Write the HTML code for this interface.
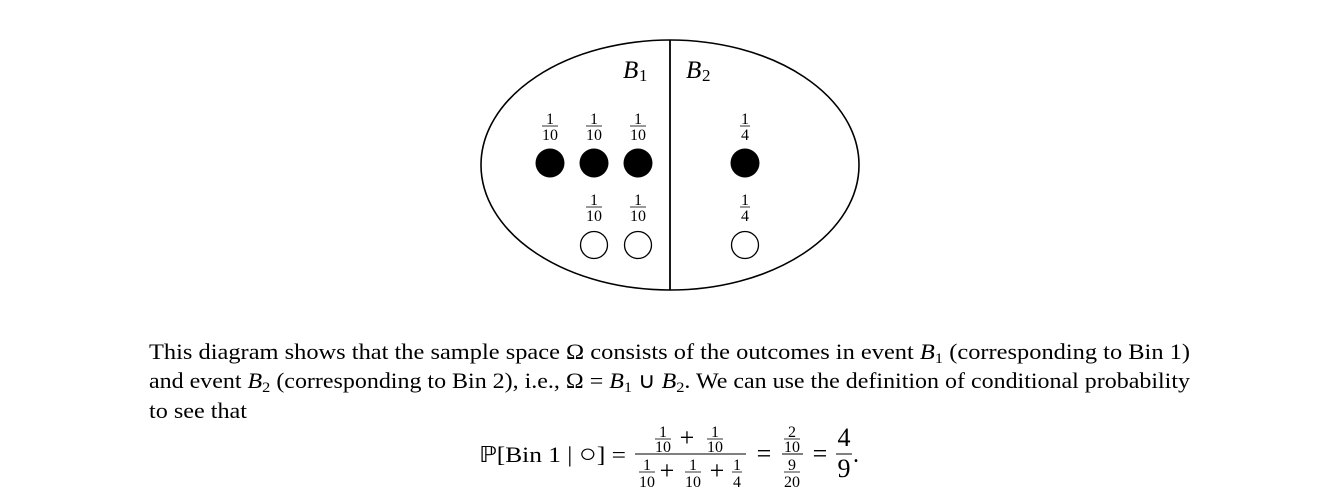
<!DOCTYPE html>
<html><head><meta charset="utf-8"><style>
html,body{margin:0;padding:0;background:#fff;}
svg{display:block;font-family:"Liberation Serif",serif;}
</style></head><body>
<svg width="1341" height="493" viewBox="0 0 1341 493" xmlns="http://www.w3.org/2000/svg">
<ellipse cx="670" cy="165" rx="189" ry="125" fill="none" stroke="#000" stroke-width="1.6"/>
<line x1="670" y1="40" x2="670" y2="290" stroke="#000" stroke-width="1.8"/>
<text x="623" y="78" font-size="25" font-style="italic">B</text><text x="639" y="81" font-size="17">1</text>
<text x="686" y="78" font-size="25" font-style="italic">B</text><text x="702" y="81" font-size="17">2</text>
<g font-size="16" text-anchor="middle">
<text x="550" y="124">1</text><line x1="542" y1="126" x2="558" y2="126" stroke="#000" stroke-width="0.8"/><text x="550" y="140">10</text>
<text x="594" y="124">1</text><line x1="586" y1="126" x2="602" y2="126" stroke="#000" stroke-width="0.8"/><text x="594" y="140">10</text>
<text x="638" y="124">1</text><line x1="630" y1="126" x2="646" y2="126" stroke="#000" stroke-width="0.8"/><text x="638" y="140">10</text>
<text x="745" y="124">1</text><line x1="740" y1="126" x2="750" y2="126" stroke="#000" stroke-width="0.8"/><text x="745" y="140">4</text>
<text x="594" y="205">1</text><line x1="586" y1="207" x2="602" y2="207" stroke="#000" stroke-width="0.8"/><text x="594" y="221">10</text>
<text x="638" y="205">1</text><line x1="630" y1="207" x2="646" y2="207" stroke="#000" stroke-width="0.8"/><text x="638" y="221">10</text>
<text x="745" y="205">1</text><line x1="740" y1="207" x2="750" y2="207" stroke="#000" stroke-width="0.8"/><text x="745" y="221">4</text>
</g>
<g fill="#000"><circle cx="550" cy="163" r="14.5"/><circle cx="594" cy="163" r="14.5"/><circle cx="638" cy="163" r="14.5"/><circle cx="745" cy="163" r="14.5"/></g>
<g fill="none" stroke="#000" stroke-width="1.3"><circle cx="594" cy="245" r="13.5"/><circle cx="638" cy="245" r="13.5"/><circle cx="745" cy="245" r="13.5"/></g>
<g font-size="22">
<text x="149" y="359" textLength="1041" lengthAdjust="spacingAndGlyphs">This diagram shows that the sample space Ω consists of the outcomes in event <tspan font-style="italic">B</tspan><tspan font-size="15" dy="4">1</tspan><tspan dy="-4"> (corresponding to Bin 1)</tspan></text>
<text x="149" y="388" textLength="1041" lengthAdjust="spacingAndGlyphs">and event <tspan font-style="italic">B</tspan><tspan font-size="15" dy="4">2</tspan><tspan dy="-4"> (corresponding to Bin 2), i.e., Ω = </tspan><tspan font-style="italic">B</tspan><tspan font-size="15" dy="4">1</tspan><tspan dy="-4"> ∪ </tspan><tspan font-style="italic">B</tspan><tspan font-size="15" dy="4">2</tspan><tspan dy="-4">. We can use the definition of conditional probability</tspan></text>
<text x="149" y="418" textLength="98" lengthAdjust="spacingAndGlyphs">to see that</text>
<text x="479" y="462" textLength="147" lengthAdjust="spacingAndGlyphs">ℙ[Bin 1 | <tspan font-size="26">○</tspan>] =</text>
</g>
<line x1="635" y1="454" x2="746" y2="454" stroke="#000" stroke-width="1"/>
<g font-size="16" text-anchor="middle">
<text x="663" y="437">1</text><line x1="655" y1="439" x2="671" y2="439" stroke="#000" stroke-width="0.8"/><text x="663" y="452">10</text>
<text x="715" y="437">1</text><line x1="707" y1="439" x2="723" y2="439" stroke="#000" stroke-width="0.8"/><text x="715" y="452">10</text>
<text x="647" y="470">1</text><line x1="639" y1="472" x2="655" y2="472" stroke="#000" stroke-width="0.8"/><text x="647" y="487">10</text>
<text x="693" y="470">1</text><line x1="685" y1="472" x2="701" y2="472" stroke="#000" stroke-width="0.8"/><text x="693" y="487">10</text>
<text x="737" y="470">1</text><line x1="732" y1="472" x2="742" y2="472" stroke="#000" stroke-width="0.8"/><text x="737" y="487">4</text>
<text x="792" y="437">2</text><line x1="784" y1="439" x2="800" y2="439" stroke="#000" stroke-width="0.8"/><text x="792" y="452">10</text>
<text x="792" y="470">9</text><line x1="784" y1="472" x2="800" y2="472" stroke="#000" stroke-width="0.8"/><text x="792" y="487">20</text>
</g>
<line x1="782" y1="454" x2="803" y2="454" stroke="#000" stroke-width="1"/>
<g font-size="26" text-anchor="middle">
<text x="687" y="446">+</text><text x="667" y="479">+</text><text x="717" y="479">+</text>
<text x="764" y="462">=</text><text x="820" y="462">=</text>
<text x="844" y="446">4</text><text x="844" y="477">9</text>
</g>
<line x1="836" y1="454" x2="852" y2="454" stroke="#000" stroke-width="1"/>
<text x="853" y="462" font-size="24">.</text>
</svg>
</body></html>
